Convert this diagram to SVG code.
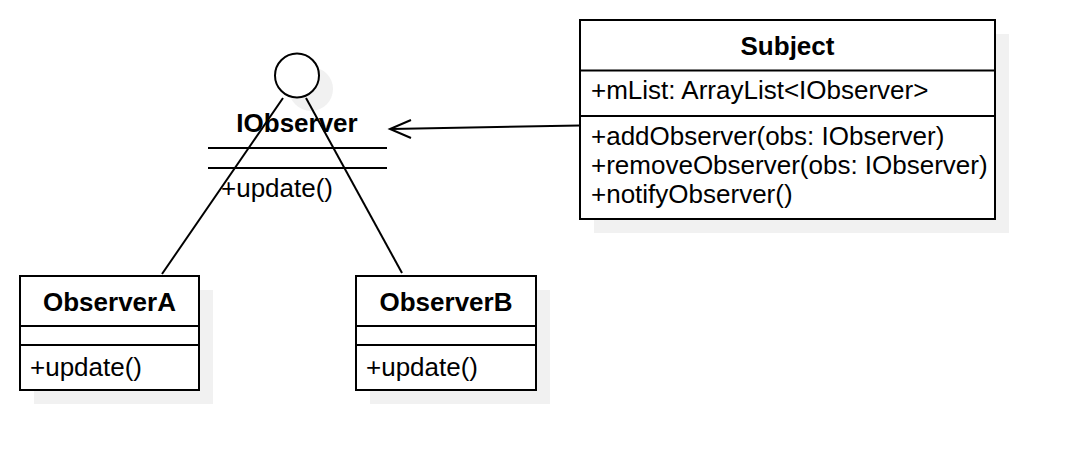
<svg xmlns="http://www.w3.org/2000/svg" width="1074" height="470" viewBox="0 0 1074 470">
<style>
.box{fill:#ffffff;stroke:#000000;stroke-width:2}
.shadow{fill:#f1f1f1;stroke:none}
.ln{stroke:#000000;stroke-width:2;fill:none}
.t{font-family:"Liberation Sans",Arial,Helvetica,sans-serif;font-size:26px;fill:#000000}
.b{font-weight:bold;text-anchor:middle}
</style>
<rect width="1074" height="470" fill="#ffffff"/>
<g id="IObserver">
<circle cx="311" cy="89" r="22" class="shadow"/>
<circle cx="297" cy="75.5" r="22" class="box"/>
<text x="297" y="132" class="t b">IObserver</text>
<line x1="208" y1="148" x2="387" y2="148" class="ln"/>
<line x1="208" y1="168" x2="387" y2="168" class="ln"/>
<text x="221" y="197" class="t">+update()</text>
</g>
<g id="Subject">
<rect x="594" y="34" width="415" height="199" class="shadow"/>
<rect x="580" y="20" width="415" height="199" class="box"/>
<line x1="580" y1="70.5" x2="995" y2="70.5" class="ln"/>
<line x1="580" y1="116" x2="995" y2="116" class="ln"/>
<text x="787.5" y="55" class="t b">Subject</text>
<text x="591" y="99" class="t">+mList: ArrayList&lt;IObserver&gt;</text>
<text x="591" y="145" class="t">+addObserver(obs: IObserver)</text>
<text x="591" y="174" class="t">+removeObserver(obs: IObserver)</text>
<text x="591" y="203" class="t">+notifyObserver()</text>
</g>
<g id="ObserverA">
<rect x="34" y="290" width="179" height="114" class="shadow"/>
<rect x="20" y="276" width="179" height="114" class="box"/>
<line x1="20" y1="326" x2="199" y2="326" class="ln"/>
<line x1="20" y1="345" x2="199" y2="345" class="ln"/>
<text x="109.5" y="311" class="t b">ObserverA</text>
<text x="30" y="376" class="t">+update()</text>
</g>
<g id="ObserverB">
<rect x="370" y="290" width="180" height="114" class="shadow"/>
<rect x="356" y="276" width="180" height="114" class="box"/>
<line x1="356" y1="326" x2="536" y2="326" class="ln"/>
<line x1="356" y1="345" x2="536" y2="345" class="ln"/>
<text x="446" y="311" class="t b">ObserverB</text>
<text x="366" y="376" class="t">+update()</text>
</g>
<g id="connectors">
<line x1="283" y1="98" x2="162" y2="274" class="ln"/>
<line x1="306" y1="98" x2="402" y2="273" class="ln"/>
<line x1="580" y1="125.5" x2="391" y2="129" class="ln"/>
<polyline points="411,120 390,129 411,138" class="ln"/>
</g>
</svg>
